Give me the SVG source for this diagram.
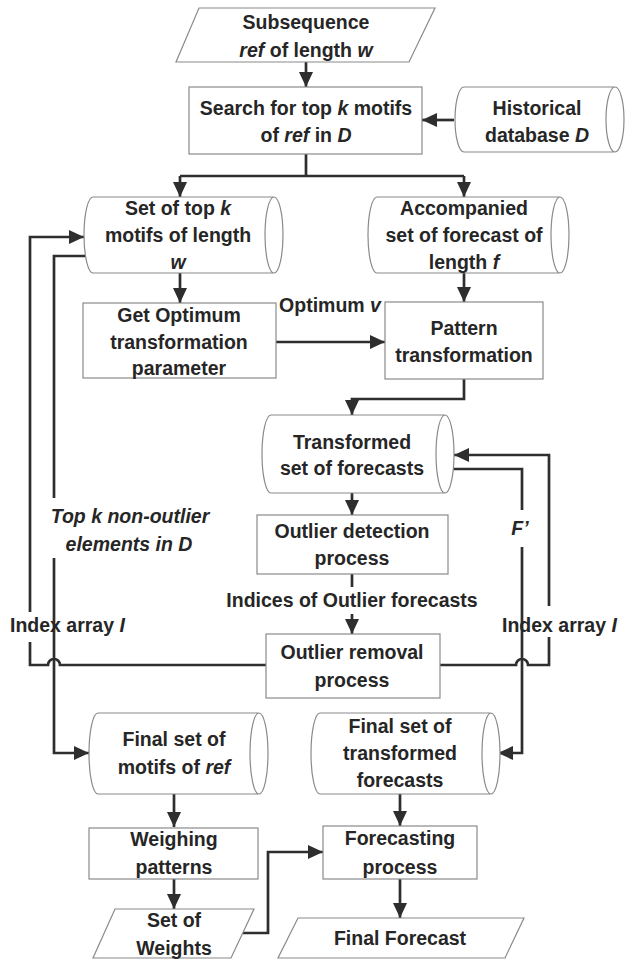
<svg xmlns="http://www.w3.org/2000/svg" width="627" height="961" viewBox="0 0 627 961">
<style>
.n{fill:#fff;stroke:#8a8a8a;stroke-width:1.2}
.t{font-family:"Liberation Sans",Arial,sans-serif;font-weight:bold;font-size:19.5px;fill:#262626;text-anchor:middle}
.s{text-anchor:start}
.i{font-style:italic}
.c{fill:none;stroke:#2e2e2e;stroke-width:2.7}
</style>
<defs>
<marker id="ah" markerUnits="userSpaceOnUse" markerWidth="16" markerHeight="14" refX="15" refY="7" orient="auto">
<path d="M0,0 L15,7 L0,14 Z" fill="#2e2e2e"/>
</marker>
</defs>

<g id="connectors">
<path class="c" d="M306,62 V87" marker-end="url(#ah)"/>
<path class="c" d="M454,120 H422" marker-end="url(#ah)"/>
<path class="c" d="M306,154 V176 M180,176 H464"/>
<path class="c" d="M180,176 V197" marker-end="url(#ah)"/>
<path class="c" d="M464,176 V197" marker-end="url(#ah)"/>
<path class="c" d="M180,273 V303" marker-end="url(#ah)"/>
<path class="c" d="M464,273 V302" marker-end="url(#ah)"/>
<path class="c" d="M276,342 H385" marker-end="url(#ah)"/>
<path class="c" d="M464,379 V399 H352 V415" marker-end="url(#ah)"/>
<path class="c" d="M352,493 V515" marker-end="url(#ah)"/>
<path class="c" d="M352,574 V587"/>
<path class="c" d="M352,614 V634" marker-end="url(#ah)"/>
<!-- left outer: index array to set of top k motifs -->
<path class="c" d="M266,665 H60 A6,6 0 0 0 48,665 H30 V642"/>
<path class="c" d="M30,612 V237 H84" marker-end="url(#ah)"/>
<!-- left inner: top k non-outlier -->
<path class="c" d="M86,256 H54 V498"/>
<path class="c" d="M54,558 V753 H89" marker-end="url(#ah)"/>
<!-- right outer: index array to transformed set -->
<path class="c" d="M440,665 H516 A6,6 0 0 1 528,665 H549 V637"/>
<path class="c" d="M549,606 V455 H454" marker-end="url(#ah)"/>
<!-- right inner: F' -->
<path class="c" d="M452,469 H522 V510"/>
<path class="c" d="M522,547 V753 H498" marker-end="url(#ah)"/>
<path class="c" d="M174,794 V827" marker-end="url(#ah)"/>
<path class="c" d="M400,794 V826" marker-end="url(#ah)"/>
<path class="c" d="M174,879 V909" marker-end="url(#ah)"/>
<path class="c" d="M243,933 H268 V852 H323" marker-end="url(#ah)"/>
<path class="c" d="M400,879 V918" marker-end="url(#ah)"/>
</g>

<g id="subsequence">
<path class="n" d="M199,8 H435 L409,62 H176 Z"/>
<text class="t" x="306" y="29">Subsequence</text>
<text class="t" x="306" y="57"><tspan class="i">ref</tspan> of length <tspan class="i">w</tspan></text>
</g>

<g id="search">
<rect class="n" x="189" y="87" width="233" height="67"/>
<text class="t" x="306" y="115">Search for top <tspan class="i">k</tspan> motifs</text>
<text class="t" x="306" y="142">of <tspan class="i">ref</tspan> in <tspan class="i">D</tspan></text>
</g>

<g id="historical">
<path class="n" d="M464,87 H615 A9,32.5 0 0 1 615,152 H464 A9,32.5 0 0 1 464,87 Z M615,87 A9,32.5 0 0 0 615,152"/>
<text class="t" x="537" y="115">Historical</text>
<text class="t" x="537" y="142">database <tspan class="i">D</tspan></text>
</g>

<g id="topk">
<path class="n" d="M93,197 H274 A9,38 0 0 1 274,273 H93 A9,38 0 0 1 93,197 Z M274,197 A9,38 0 0 0 274,273"/>
<text class="t" x="178" y="215">Set of top <tspan class="i">k</tspan></text>
<text class="t" x="178" y="242">motifs of length</text>
<text class="t i" x="178" y="269">w</text>
</g>

<g id="accompanied">
<path class="n" d="M377,197 H560 A9,38 0 0 1 560,273 H377 A9,38 0 0 1 377,197 Z M560,197 A9,38 0 0 0 560,273"/>
<text class="t" x="464" y="215">Accompanied</text>
<text class="t" x="464" y="242">set of forecast of</text>
<text class="t" x="464" y="269">length <tspan class="i">f</tspan></text>
</g>

<g id="optimum">
<rect class="n" x="83" y="303" width="193" height="75"/>
<text class="t" x="179" y="322">Get Optimum</text>
<text class="t" x="179" y="349">transformation</text>
<text class="t" x="179" y="375">parameter</text>
</g>

<g id="optimum-label">
<text class="t" x="330" y="312">Optimum <tspan class="i">v</tspan></text>
</g>

<g id="pattern">
<rect class="n" x="385" y="302" width="158" height="77"/>
<text class="t" x="464" y="335">Pattern</text>
<text class="t" x="464" y="362">transformation</text>
</g>

<g id="transformed">
<path class="n" d="M271,415 H445 A9,39 0 0 1 445,493 H271 A9,39 0 0 1 271,415 Z M445,415 A9,39 0 0 0 445,493"/>
<text class="t" x="352" y="449">Transformed</text>
<text class="t" x="352" y="475">set of forecasts</text>
</g>

<g id="detection">
<rect class="n" x="257" y="515" width="191" height="59"/>
<text class="t" x="352" y="538">Outlier detection</text>
<text class="t" x="352" y="565">process</text>
</g>

<g id="labels">
<text class="t" x="352" y="607">Indices of Outlier forecasts</text>
<text class="t i" x="130" y="523">Top k non-outlier</text>
<text class="t i" x="129" y="551">elements in D</text>
<text class="t i" x="520" y="535">F’</text>
<text class="t s" x="10" y="632">Index array <tspan class="i">I</tspan></text>
<text class="t s" x="502" y="632">Index array <tspan class="i">I</tspan></text>
</g>

<g id="removal">
<rect class="n" x="266" y="634" width="174" height="64"/>
<text class="t" x="352" y="659">Outlier removal</text>
<text class="t" x="352" y="687">process</text>
</g>

<g id="final-motifs">
<path class="n" d="M98,713 H259 A9,40.5 0 0 1 259,794 H98 A9,40.5 0 0 1 98,713 Z M259,713 A9,40.5 0 0 0 259,794"/>
<text class="t" x="174" y="746">Final set of</text>
<text class="t" x="174" y="774">motifs of <tspan class="i">ref</tspan></text>
</g>

<g id="final-transformed">
<path class="n" d="M320,713 H491 A9,40.5 0 0 1 491,794 H320 A9,40.5 0 0 1 320,713 Z M491,713 A9,40.5 0 0 0 491,794"/>
<text class="t" x="400" y="733">Final set of</text>
<text class="t" x="400" y="760">transformed</text>
<text class="t" x="400" y="787">forecasts</text>
</g>

<g id="weighing">
<rect class="n" x="89" y="828" width="169" height="51"/>
<text class="t" x="174" y="846">Weighing</text>
<text class="t" x="174" y="874">patterns</text>
</g>

<g id="forecasting">
<rect class="n" x="323" y="826" width="154" height="53"/>
<text class="t" x="400" y="845">Forecasting</text>
<text class="t" x="400" y="874">process</text>
</g>

<g id="weights">
<path class="n" d="M115,909 H254 L231,958 H93 Z"/>
<text class="t" x="174" y="927">Set of</text>
<text class="t" x="174" y="955">Weights</text>
</g>

<g id="final-forecast">
<path class="n" d="M298,918 H524 L505,958 H278 Z"/>
<text class="t" x="400" y="945">Final Forecast</text>
</g>
</svg>
